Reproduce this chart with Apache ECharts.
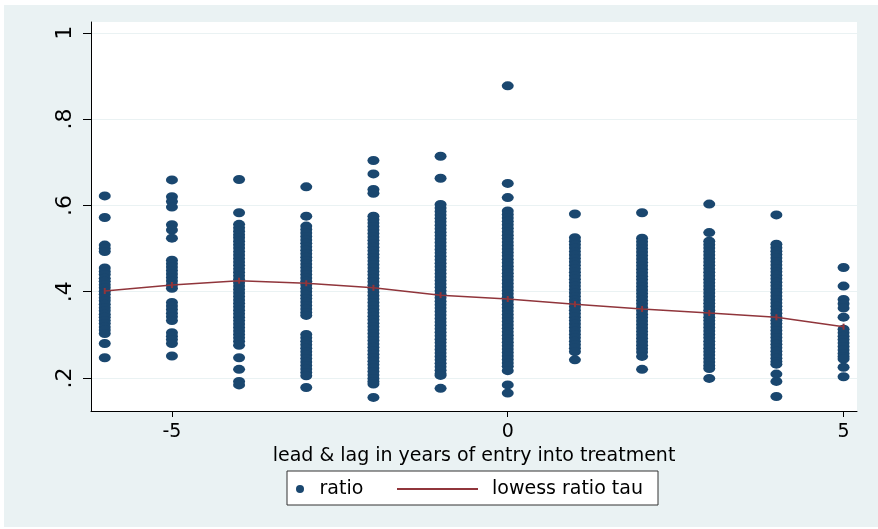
<!DOCTYPE html>
<html>
<head>
<meta charset="utf-8">
<script src="https://cdn.jsdelivr.net/npm/echarts@6/dist/echarts.min.js"></script>
<style>html,body{margin:0;padding:0;background:#fff}#c{width:878px;height:529px}</style>
</head>
<body>
<div id="c"></div>
<script>
// lead & lag in years of entry into treatment
const leadLag = [-6, -5, -4, -3, -2, -1, 0, 1, 2, 3, 4, 5];

// ratio values read per column
const ratioM6 = [0.622, 0.572, 0.508, 0.500, 0.493, 0.455, 0.447, 0.440, 0.431, 0.424, 0.416, 0.409, 0.401, 0.394, 0.386, 0.379, 0.371, 0.363, 0.356, 0.348, 0.341, 0.333, 0.326, 0.318, 0.311, 0.303, 0.280, 0.247];
const ratioM5 = [0.659, 0.620, 0.609, 0.596, 0.555, 0.543, 0.524, 0.473, 0.465, 0.457, 0.449, 0.441, 0.433, 0.425, 0.416, 0.408, 0.375, 0.367, 0.359, 0.350, 0.342, 0.333, 0.305, 0.297, 0.289, 0.280, 0.251];
const ratioM4 = [0.660, 0.583, 0.556, 0.548, 0.540, 0.532, 0.525, 0.517, 0.509, 0.501, 0.493, 0.485, 0.477, 0.469, 0.461, 0.453, 0.445, 0.437, 0.429, 0.421, 0.413, 0.405, 0.397, 0.389, 0.381, 0.373, 0.365, 0.357, 0.349, 0.341, 0.333, 0.325, 0.317, 0.309, 0.301, 0.293, 0.285, 0.276, 0.247, 0.220, 0.192, 0.184];
const ratioM3 = [0.643, 0.575, 0.552, 0.544, 0.536, 0.528, 0.520, 0.512, 0.504, 0.496, 0.488, 0.480, 0.472, 0.464, 0.456, 0.448, 0.440, 0.432, 0.424, 0.416, 0.408, 0.400, 0.392, 0.384, 0.376, 0.368, 0.360, 0.352, 0.345, 0.301, 0.293, 0.285, 0.277, 0.269, 0.261, 0.253, 0.245, 0.237, 0.229, 0.221, 0.213, 0.205, 0.178];
const ratioM2 = [0.704, 0.673, 0.637, 0.628, 0.575, 0.567, 0.559, 0.551, 0.543, 0.535, 0.527, 0.519, 0.511, 0.503, 0.495, 0.487, 0.479, 0.471, 0.463, 0.455, 0.447, 0.439, 0.431, 0.423, 0.415, 0.407, 0.399, 0.391, 0.383, 0.375, 0.367, 0.359, 0.351, 0.343, 0.335, 0.327, 0.319, 0.311, 0.303, 0.295, 0.287, 0.279, 0.271, 0.263, 0.255, 0.247, 0.239, 0.231, 0.223, 0.215, 0.207, 0.199, 0.192, 0.186, 0.155];
const ratioM1 = [0.714, 0.663, 0.602, 0.594, 0.586, 0.578, 0.570, 0.562, 0.554, 0.546, 0.538, 0.530, 0.522, 0.514, 0.506, 0.498, 0.490, 0.482, 0.474, 0.466, 0.458, 0.450, 0.442, 0.434, 0.426, 0.418, 0.410, 0.402, 0.394, 0.386, 0.378, 0.370, 0.362, 0.354, 0.346, 0.338, 0.330, 0.322, 0.314, 0.306, 0.298, 0.290, 0.282, 0.274, 0.266, 0.258, 0.250, 0.242, 0.234, 0.226, 0.218, 0.210, 0.206, 0.176];
const ratio0 = [0.877, 0.651, 0.618, 0.587, 0.579, 0.571, 0.563, 0.555, 0.547, 0.539, 0.531, 0.523, 0.515, 0.507, 0.499, 0.491, 0.483, 0.475, 0.467, 0.459, 0.451, 0.443, 0.435, 0.427, 0.419, 0.411, 0.403, 0.395, 0.387, 0.379, 0.371, 0.363, 0.355, 0.347, 0.339, 0.331, 0.323, 0.315, 0.307, 0.299, 0.291, 0.283, 0.275, 0.267, 0.259, 0.251, 0.243, 0.235, 0.227, 0.217, 0.184, 0.165];
const ratio1 = [0.580, 0.525, 0.517, 0.509, 0.501, 0.493, 0.485, 0.477, 0.469, 0.461, 0.453, 0.445, 0.437, 0.429, 0.421, 0.413, 0.405, 0.397, 0.389, 0.381, 0.373, 0.365, 0.357, 0.349, 0.341, 0.333, 0.325, 0.317, 0.309, 0.301, 0.293, 0.285, 0.277, 0.269, 0.261, 0.242];
const ratio2 = [0.583, 0.524, 0.516, 0.508, 0.500, 0.492, 0.484, 0.476, 0.468, 0.460, 0.452, 0.444, 0.436, 0.428, 0.420, 0.412, 0.404, 0.396, 0.388, 0.380, 0.372, 0.364, 0.356, 0.348, 0.340, 0.332, 0.324, 0.316, 0.308, 0.300, 0.292, 0.284, 0.276, 0.268, 0.260, 0.250, 0.220];
const ratio3 = [0.603, 0.537, 0.517, 0.509, 0.501, 0.493, 0.485, 0.477, 0.469, 0.461, 0.453, 0.445, 0.437, 0.429, 0.421, 0.413, 0.405, 0.397, 0.389, 0.381, 0.373, 0.365, 0.357, 0.349, 0.341, 0.333, 0.325, 0.317, 0.309, 0.301, 0.293, 0.285, 0.277, 0.269, 0.261, 0.253, 0.245, 0.237, 0.229, 0.222, 0.199];
const ratio4 = [0.578, 0.510, 0.502, 0.494, 0.486, 0.478, 0.470, 0.462, 0.454, 0.446, 0.438, 0.430, 0.422, 0.414, 0.406, 0.398, 0.390, 0.382, 0.374, 0.366, 0.358, 0.350, 0.342, 0.334, 0.326, 0.318, 0.310, 0.302, 0.294, 0.286, 0.278, 0.270, 0.262, 0.254, 0.246, 0.238, 0.232, 0.209, 0.192, 0.157];
const ratio5 = [0.456, 0.413, 0.382, 0.372, 0.362, 0.341, 0.313, 0.305, 0.297, 0.289, 0.281, 0.273, 0.265, 0.257, 0.250, 0.244, 0.225, 0.203];

// lowess smoother of ratio on tau
const lowessTau = [0.4016, 0.4155, 0.4255, 0.4195, 0.409, 0.392, 0.383, 0.371, 0.360, 0.3506, 0.3407, 0.319];

// axis ticks
const yTicks = [0.2, 0.4, 0.6, 0.8, 1];
const yTickLabels = ['.2', '.4', '.6', '.8', '1'];
const xTicks = [-5, 0, 5];

const ratioColumns = [ratioM6, ratioM5, ratioM4, ratioM3, ratioM2, ratioM1, ratio0, ratio1, ratio2, ratio3, ratio4, ratio5];
const scatterData = [];
ratioColumns.forEach((col, i) => col.forEach(v => scatterData.push([leadLag[i], v])));
const lowessData = leadLag.map((x, i) => [x, lowessTau[i]]);

const chart = echarts.init(document.getElementById('c'), null, {renderer: 'canvas'});
const txt = {fontFamily: 'DejaVu Sans', color: '#000'};
chart.setOption({
  animation: false,
  backgroundColor: '#ffffff',
  graphic: [
    {type: 'rect', z: -10, shape: {x: 4, y: 5, width: 874, height: 522}, style: {fill: '#eaf2f3'}},
    {type: 'rect', z: 1, shape: {x: 287, y: 471, width: 371, height: 34}, style: {fill: '#ffffff', stroke: '#333333', lineWidth: 1}}
  ],
  grid: {left: 91, top: 22, width: 766, height: 389, show: true, backgroundColor: '#ffffff', borderWidth: 0},
  xAxis: {
    type: 'value', min: -6.205, max: 5.2,
    name: 'lead & lag in years of entry into treatment',
    nameLocation: 'middle', nameGap: 25,
    nameTextStyle: Object.assign({fontSize: 19}, txt),
    axisLine: {onZero: false, lineStyle: {color: '#000', width: 1}},
    axisTick: {customValues: xTicks, length: 6, lineStyle: {color: '#000'}},
    axisLabel: Object.assign({customValues: xTicks, fontSize: 19, margin: 12}, txt),
    splitLine: {show: false}
  },
  yAxis: {
    type: 'value', min: 0.1235, max: 1.025,
    axisLine: {show: true, onZero: false, lineStyle: {color: '#000', width: 1}},
    axisTick: {show: true, customValues: yTicks, length: 8, lineStyle: {color: '#000'}},
    axisLabel: Object.assign({customValues: yTicks, rotate: 90, fontSize: 22, margin: 15,
      formatter: v => yTickLabels[yTicks.findIndex(t => Math.abs(t - v) < 1e-6)]}, txt),
    splitLine: {show: true, lineStyle: {color: '#eaf2f3', width: 1}}
  },
  legend: [
    {data: [{name: 'ratio', icon: 'circle'}], left: 296, top: 479, padding: 0, itemWidth: 9, itemHeight: 8,
     selectedMode: false, textStyle: Object.assign({fontSize: 19, lineHeight: 20, padding: [0, 0, 0, 10]}, txt)},
    {data: [{name: 'lowess ratio tau', icon: 'rect'}], left: 397, top: 479, padding: 0, itemWidth: 81, itemHeight: 2,
     symbolKeepAspect: false, selectedMode: false, textStyle: Object.assign({fontSize: 19, lineHeight: 20, padding: [0, 0, 0, 9]}, txt)}
  ],
  series: [
    {type: 'scatter', name: 'ratio', data: scatterData, symbol: 'circle', symbolSize: [12, 9],
     itemStyle: {color: '#1a476f', opacity: 1}, z: 2},
    {type: 'line', name: 'lowess ratio tau', data: lowessData, symbol: 'rect', symbolSize: [2, 6], showSymbol: true,
     itemStyle: {color: '#90353b'}, lineStyle: {color: '#90353b', width: 1.5}, z: 3}
  ]
});
</script>
</body>
</html>
